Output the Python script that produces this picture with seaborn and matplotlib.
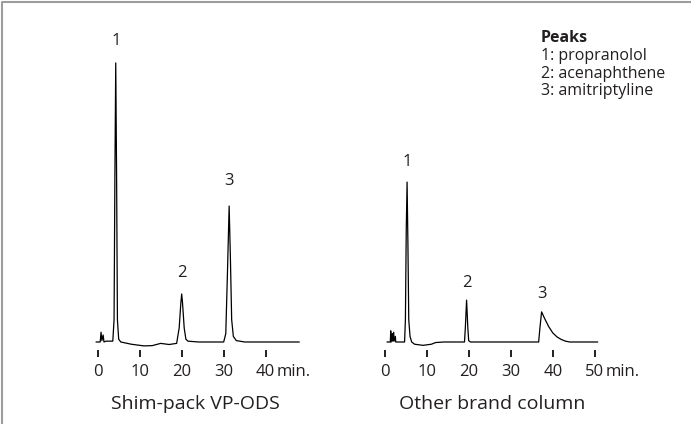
"""
Chromatogram comparison: Shim-pack VP-ODS vs. another brand column.
Outputs: out.png
"""

import pandas as pd
import matplotlib.pyplot as plt
from matplotlib.lines import Line2D
from matplotlib.transforms import blended_transform_factory, offset_copy
import seaborn as sns

# --- trace vertices (time in min, signal in a.u.) ---
LEFT_TIME = [-0.4, 0.6, 0.8, 1.0, 1.3, 1.5, 2.0, 3.6, 3.9, 4.1, 4.3, 4.5,
             4.7, 5.0, 5.5, 8.0, 11.0, 13.0, 15.0, 17.0, 18.8, 19.4, 19.8,
             20.0, 20.2, 20.6, 21.0, 21.5, 24.0, 30.0, 30.5, 30.9, 31.3,
             31.6, 31.9, 32.3, 33.0, 35.0, 48.0]
LEFT_SIGNAL = [0, 0, 3.5, 0.5, 2.5, 0, 0.3, 0.3, 8, 60, 100, 60,
               8, 1, 0, -0.8, -1.4, -1.3, -0.5, -0.9, -0.5, 5, 14,
               17.2, 14, 5, 1, 0.3, 0, 0, 3, 25, 48.7,
               30, 8, 2, 0.5, 0, 0]

RIGHT_TIME = [0.4, 1.2, 1.3, 1.4, 1.7, 1.8, 2.0, 2.1, 2.4, 2.5, 4.6, 4.8,
              5.0, 5.2, 5.4, 5.6, 5.9, 6.3, 7.0, 9.0, 11.0, 12.0, 14.0,
              18.9, 19.1, 19.4, 19.7, 19.9, 20.3, 36.6, 36.9, 37.3, 38.0,
              39.0, 40.0, 41.0, 42.0, 43.0, 44.0, 50.7]
RIGHT_SIGNAL = [0, 0, 4, 0, 3, 0.3, 3.5, 0.3, 2, 0, 0, 8,
                40, 57.3, 35, 8, 2, 0, -0.8, -1.2, -0.8, -0.2, 0,
                0, 5, 15, 5, 0.5, 0, 0, 5, 10.8, 8.5,
                5.5, 3.2, 1.8, 0.9, 0.3, 0, 0]

# peak apex (time, height) and labels
LEFT_PEAKS = [(4.3, 100), (20.0, 17.2), (31.3, 48.7)]
RIGHT_PEAKS = [(5.2, 57.3), (19.4, 15), (37.3, 10.8)]
PEAK_LABELS = ["1", "2", "3"]
# gap between apex and label (points)
LEFT_LABEL_GAP = [16, 15, 18]
RIGHT_LABEL_GAP = [14.5, 12, 13]

LEFT_TICKS = [0, 10, 20, 30, 40]
RIGHT_TICKS = [0, 10, 20, 30, 40, 50]

LEGEND_TITLE = "Peaks"
LEGEND_LINES = ["1: propranolol", "2: acenaphthene", "3: amitriptyline"]

TITLES = ["Shim-pack VP-ODS", "Other brand column"]

TEXT_COL = "#231f20"
W, H = 691, 424
TICK_LEN, TICK_PAD = 5, 5

sns.set_style("white")
plt.rcParams["font.family"] = ["Open Sans", "DejaVu Sans"]


def draw_panel(fig, rect_px, xlim, time, signal, peaks, gaps, ticks, title):
    x0, y0, x1, y1 = rect_px
    ax = fig.add_axes([x0 / W, 1 - y1 / H, (x1 - x0) / W, (y1 - y0) / H])
    df = pd.DataFrame({"time": time, "signal": signal})
    sns.lineplot(data=df, x="time", y="signal", ax=ax, estimator=None,
                 sort=False, color="black", linewidth=0.9)
    ax.set_xlim(*xlim)
    ax.set_ylim(-2.87, 111.8)
    for s in ax.spines.values():
        s.set_visible(False)
    ax.set_xticks(ticks)
    ax.set_xticklabels([str(t) for t in ticks])
    ax.set_yticks([])
    ax.set_xlabel("")
    ax.set_ylabel("")
    ax.tick_params(axis="x", bottom=True, direction="out", length=TICK_LEN,
                   width=1.4, color=TEXT_COL, labelsize=12,
                   labelcolor=TEXT_COL, pad=TICK_PAD)
    ax.patch.set_alpha(0)

    for (t, h), lab, gap in zip(peaks, PEAK_LABELS, gaps):
        ax.annotate(lab, xy=(t, h), xytext=(0, gap), textcoords="offset points",
                    ha="center", va="center", fontsize=12, color=TEXT_COL)

    # "min." after the last tick label, on the same line
    tr = blended_transform_factory(ax.transData, ax.transAxes)
    ax.text(ticks[-1], 0, "min.",
            transform=offset_copy(tr, fig=fig, x=8, y=-(TICK_LEN + TICK_PAD),
                                  units="points"),
            ha="left", va="top", fontsize=12, color=TEXT_COL)
    ax.text(0.5, 0, title,
            transform=offset_copy(ax.transAxes, fig=fig, y=-39, units="points"),
            ha="center", va="center", fontsize=14, color=TEXT_COL)
    return ax


def main():
    fig = plt.figure(figsize=(W / 100, H / 100), dpi=100)

    draw_panel(fig, (80, 30, 310, 350), (-4.21, 50.55),
               LEFT_TIME, LEFT_SIGNAL, LEFT_PEAKS, LEFT_LABEL_GAP,
               LEFT_TICKS, TITLES[0])
    draw_panel(fig, (370, 30, 615, 350), (-3.65, 54.82),
               RIGHT_TIME, RIGHT_SIGNAL, RIGHT_PEAKS, RIGHT_LABEL_GAP,
               RIGHT_TICKS, TITLES[1])

    # peak legend, top right
    fig.text(541 / W, 1 - 38 / H, LEGEND_TITLE, ha="left", va="center",
             fontsize=11.5, fontweight="bold", color=TEXT_COL)
    for i, line in enumerate(LEGEND_LINES):
        fig.text(541 / W, 1 - (56 + 17.5 * i) / H, line, ha="left",
                 va="center", fontsize=11.5, color=TEXT_COL)

    # grey frame on the left and top edges
    fx, fy = 1.5 / W, 1 - 1.5 / H
    fig.lines.append(Line2D([fx, fx, 1], [0, fy, fy], transform=fig.transFigure,
                            color="#9d9d9d", linewidth=1.5))

    fig.savefig("out.png", dpi=100)
    plt.close(fig)


if __name__ == "__main__":
    main()
